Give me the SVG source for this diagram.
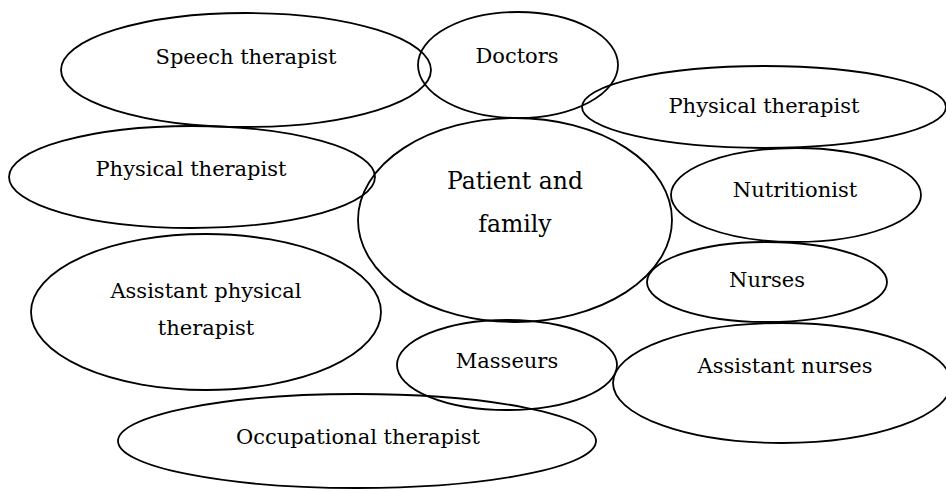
<svg xmlns="http://www.w3.org/2000/svg" width="946" height="492" viewBox="0 0 946 492">
<style>
.n ellipse{fill:none;stroke:#000;stroke-width:1.8}
.n text{font-family:"DejaVu Serif","Liberation Serif",serif;font-size:21px;fill:#000;text-anchor:middle}
.big text{font-size:23.5px}
</style>
<rect width="946" height="492" fill="#fff"/>
<g id="connectors"></g>
<g id="speech" class="n"><ellipse cx="246" cy="70" rx="185" ry="57"/><text x="246" y="64">Speech therapist</text></g>
<g id="doctors" class="n"><ellipse cx="518" cy="65" rx="100" ry="53"/><text x="517" y="63">Doctors</text></g>
<g id="physical-right" class="n"><ellipse cx="764" cy="107" rx="182" ry="41"/><text x="764" y="113">Physical therapist</text></g>
<g id="physical-left" class="n"><ellipse cx="192" cy="177" rx="183" ry="51"/><text x="191" y="176">Physical therapist</text></g>
<g id="patient" class="n big"><ellipse cx="515" cy="220" rx="157" ry="102"/><text x="515" y="189">Patient and</text><text x="515" y="232">family</text></g>
<g id="nutritionist" class="n"><ellipse cx="796" cy="195" rx="125" ry="47"/><text x="795" y="197">Nutritionist</text></g>
<g id="nurses" class="n"><ellipse cx="767" cy="282" rx="120" ry="40"/><text x="767" y="287">Nurses</text></g>
<g id="assistant-pt" class="n"><ellipse cx="206" cy="312" rx="175" ry="78"/><text x="206" y="298">Assistant physical</text><text x="206" y="335">therapist</text></g>
<g id="masseurs" class="n"><ellipse cx="507" cy="365" rx="110" ry="45"/><text x="507" y="368">Masseurs</text></g>
<g id="assistant-nurses" class="n"><ellipse cx="782" cy="383" rx="169" ry="60"/><text x="785" y="373">Assistant nurses</text></g>
<g id="occupational" class="n"><ellipse cx="357" cy="441" rx="239" ry="47"/><text x="358" y="444">Occupational therapist</text></g>
</svg>
